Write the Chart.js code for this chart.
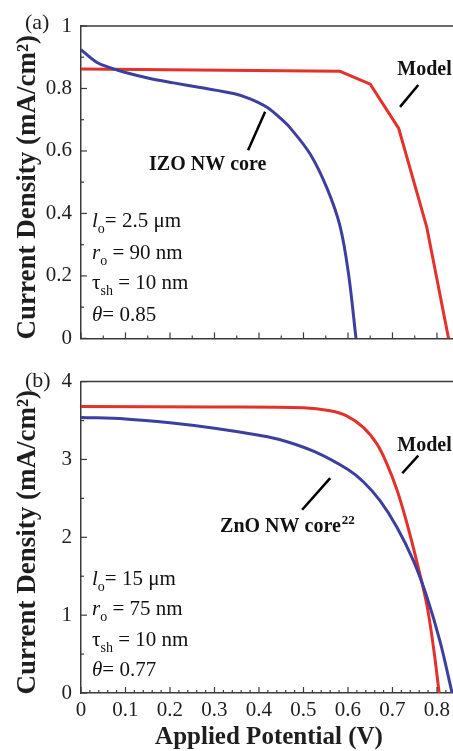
<!DOCTYPE html>
<html>
<head>
<meta charset="utf-8">
<script src="https://cdn.jsdelivr.net/npm/chart.js@4"></script>
<style>
html, body { margin: 0; padding: 0; background: #fff; }
#wrap { position: relative; width: 453px; height: 751px; overflow: hidden; background: #fff; }
canvas { position: absolute; left: 0; }
</style>
</head>
<body>
<div id="wrap">
    <canvas id="chartA" width="457" height="360" style="top:0"></canvas>
    <canvas id="chartB" width="457" height="391" style="top:360px"></canvas>
</div>
<script>
// panel (a): IZO NW core vs model
const izoV = [0, 0.035, 0.065, 0.1, 0.155, 0.208, 0.268, 0.343, 0.38, 0.418, 0.447, 0.47, 0.515, 0.553, 0.582, 0.601, 0.618];
const izoJ = [0.924, 0.884, 0.867, 0.851, 0.832, 0.818, 0.803, 0.784, 0.767, 0.740, 0.706, 0.674, 0.59, 0.48, 0.36, 0.209, 0];
const modelAV = [0, 0.582, 0.65, 0.714, 0.777, 0.826];
const modelAJ = [0.862, 0.855, 0.814, 0.672, 0.356, 0];

// panel (b): ZnO NW core vs model
const znoV = [0, 0.1, 0.2, 0.3, 0.4, 0.45, 0.525, 0.6, 0.635, 0.672, 0.71, 0.747, 0.777, 0.807, 0.834];
const znoJ = [3.54, 3.52, 3.47, 3.40, 3.31, 3.25, 3.10, 2.87, 2.71, 2.47, 2.13, 1.70, 1.24, 0.66, 0];
const modelBV = [0, 0.3, 0.5, 0.56, 0.597, 0.635, 0.665, 0.687, 0.71, 0.732, 0.755, 0.777, 0.792, 0.805];
const modelBJ = [3.68, 3.675, 3.665, 3.625, 3.56, 3.41, 3.20, 2.95, 2.61, 2.19, 1.68, 1.14, 0.59, 0];

// tick labels
const xTicks = [0, 0.1, 0.2, 0.3, 0.4, 0.5, 0.6, 0.7, 0.8];
const yTicksA = [0, 0.2, 0.4, 0.6, 0.8, 1];
const yTicksB = [0, 1, 2, 3, 4];

const RED = '#e2322b';
const BLUE = '#3d3f9f';
const INK = '#1e1e1e';
const SERIF = "'Liberation Serif', 'Times New Roman', serif";

Chart.defaults.font.family = SERIF;
Chart.defaults.color = INK;

function pts(xs, ys) {
    return xs.map((x, i) => ({ x: x, y: ys[i] }));
}

// draws top frame line, inward tick marks, y title, labels and the parameter block
const framePlugin = {
    id: 'frame',
    afterDatasetsDraw(chart, args, o) {
        const { ctx, chartArea: a, scales: { x, y } } = chart;
        ctx.save();
        ctx.strokeStyle = '#3a3a3a';
        ctx.lineWidth = 1.5;
        ctx.beginPath();
        ctx.moveTo(a.left, a.top);
        ctx.lineTo(a.right + 2, a.top);
        ctx.stroke();

        ctx.lineWidth = 1.2;
        for (let i = 0; i * o.xMinor <= x.max + 1e-9; i++) {
            const px = x.getPixelForValue(i * o.xMinor);
            const len = i % o.xPer === 0 ? 6 : 3;
            ctx.beginPath();
            ctx.moveTo(px, a.bottom);
            ctx.lineTo(px, a.bottom - len);
            ctx.stroke();
        }
        for (let i = 0; i * o.yMinor <= y.max + 1e-9; i++) {
            const py = y.getPixelForValue(i * o.yMinor);
            const len = i % o.yPer === 0 ? 6 : 3;
            ctx.beginPath();
            ctx.moveTo(a.left, py);
            ctx.lineTo(a.left + len, py);
            ctx.stroke();
        }

        // y axis title, a little below the plot centre as in the figure
        ctx.save();
        ctx.translate(35, (a.top + a.bottom) / 2 + 5);
        ctx.rotate(-Math.PI / 2);
        ctx.fillStyle = INK;
        ctx.font = 'bold 27px ' + SERIF;
        ctx.textAlign = 'center';
        ctx.textBaseline = 'alphabetic';
        ctx.fillText('Current Density (mA/cm\u00b2)', 0, 0);
        ctx.restore();

        // pointer lines
        ctx.strokeStyle = '#000';
        ctx.lineWidth = 2.5;
        o.pointers.forEach(p => {
            ctx.beginPath();
            ctx.moveTo(x.getPixelForValue(p[0]), y.getPixelForValue(p[1]));
            ctx.lineTo(x.getPixelForValue(p[2]), y.getPixelForValue(p[3]));
            ctx.stroke();
        });

        // bold labels
        ctx.fillStyle = '#111';
        ctx.textBaseline = 'alphabetic';
        o.notes.forEach(n => {
            const px = x.getPixelForValue(n.v);
            const py = y.getPixelForValue(n.j);
            ctx.font = 'bold 20px ' + SERIF;
            ctx.fillText(n.text, px, py);
            if (n.sup) {
                const w = ctx.measureText(n.text).width;
                ctx.font = 'bold 13px ' + SERIF;
                ctx.fillText(n.sup, px + w + 1, py - 8);
            }
        });

        // parameter block
        o.params.forEach(row => {
            let px = x.getPixelForValue(o.paramV);
            const py = y.getPixelForValue(row.j);
            row.parts.forEach(part => {
                let size = 21, dy = 0;
                if (part.sub) { size = 14; dy = 6; }
                ctx.font = (part.it ? 'italic ' : '') + size + 'px ' + SERIF;
                ctx.fillText(part.t, px, py + dy);
                px += ctx.measureText(part.t).width;
            });
        });
        ctx.restore();
    }
};

function makeChart(id, cfg) {
    return new Chart(document.getElementById(id), {
        type: 'scatter',
        data: {
            datasets: [
                {
                    label: cfg.expLabel,
                    data: cfg.exp,
                    showLine: true,
                    borderColor: BLUE,
                    borderWidth: 3,
                    pointRadius: 0,
                    tension: 0.35
                },
                {
                    label: 'Model',
                    data: cfg.model,
                    showLine: true,
                    borderColor: RED,
                    borderWidth: 3,
                    pointRadius: 0,
                    tension: cfg.modelSmooth ? 0.35 : 0
                }
            ]
        },
        options: {
            responsive: false,
            animation: false,
            devicePixelRatio: 1,
            layout: { padding: { top: cfg.top, left: 0, right: 0, bottom: 0 } },
            plugins: {
                legend: { display: false },
                tooltip: { enabled: false },
                frame: cfg.frame
            },
            scales: {
                x: {
                    type: 'linear',
                    min: 0,
                    max: 0.845,
                    afterBuildTicks: s => { s.ticks = xTicks.map(v => ({ value: v })); },
                    afterFit: s => { s.height = cfg.xHeight; },
                    grid: { display: false, drawTicks: false },
                    border: { display: true, color: '#3a3a3a', width: 1.5 },
                    ticks: {
                        display: cfg.showX,
                        padding: 5,
                        font: { size: 21 },
                        maxRotation: 0,
                        autoSkip: false,
                        callback: v => String(v)
                    },
                    title: {
                        display: cfg.showX,
                        text: 'Applied Potential (V)',
                        font: { size: 25, weight: 'bold', lineHeight: 1.1 },
                        padding: { top: 0, bottom: 0 }
                    }
                },
                y: {
                    type: 'linear',
                    min: 0,
                    max: cfg.yMax,
                    afterBuildTicks: s => { s.ticks = cfg.yTicks.map(v => ({ value: v })); },
                    afterFit: s => { s.width = 81; },
                    grid: { display: false, drawTicks: false },
                    border: { display: true, color: '#3a3a3a', width: 1.5 },
                    ticks: { padding: 9, font: { size: 21 }, callback: v => String(v) }
                }
            }
        },
        plugins: [framePlugin, {
            id: 'panelTag',
            afterDraw(chart) {
                const c = chart.ctx;
                c.save();
                c.fillStyle = INK;
                c.font = '22px ' + SERIF;
                c.textBaseline = 'alphabetic';
                c.fillText(cfg.tag, cfg.tagX, cfg.tagY);
                c.restore();
            }
        }]
    });
}

makeChart('chartA', {
    expLabel: 'IZO NW core',
    exp: pts(izoV, izoJ),
    model: pts(modelAV, modelAJ),
    modelSmooth: false,
    yMax: 1,
    yTicks: yTicksA,
    top: 26,
    xHeight: 17,
    showX: false,
    tag: '(a)',
    tagX: 25,
    tagY: 29,
    frame: {
        xMinor: 0.05, xPer: 2, yMinor: 0.1, yPer: 2,
        pointers: [[0.717, 0.741, 0.758, 0.811], [0.3755, 0.6025, 0.4138, 0.7256]],
        notes: [
            { text: 'Model', v: 0.711, j: 0.842 },
            { text: 'IZO NW core', v: 0.153, j: 0.539 }
        ],
        paramV: 0.0247,
        params: [
            { j: 0.356, parts: [{ t: 'l', it: true }, { t: 'o', sub: true }, { t: '= 2.5 \u03bcm' }] },
            { j: 0.2555, parts: [{ t: 'r', it: true }, { t: 'o', sub: true }, { t: ' = 90 nm' }] },
            { j: 0.158, parts: [{ t: '\u03c4' }, { t: 'sh', sub: true }, { t: ' = 10 nm' }] },
            { j: 0.0568, parts: [{ t: '\u03b8', it: true }, { t: '= 0.85' }] }
        ]
    }
});

makeChart('chartB', {
    expLabel: 'ZnO NW core',
    exp: pts(znoV, znoJ),
    model: pts(modelBV, modelBJ),
    modelSmooth: true,
    yMax: 4,
    yTicks: yTicksB,
    top: 17,
    xHeight: 58,
    showX: true,
    tag: '(b)',
    tagX: 25,
    tagY: 27,
    frame: {
        xMinor: 0.02, xPer: 5, yMinor: 0.5, yPer: 2,
        pointers: [[0.722, 2.823, 0.758, 3.05], [0.497, 2.354, 0.56, 2.76]],
        notes: [
            { text: 'Model', v: 0.711, j: 3.114 },
            { text: 'ZnO NW core', sup: '22', v: 0.3126, j: 2.063 }
        ],
        paramV: 0.0247,
        params: [
            { j: 1.392, parts: [{ t: 'l', it: true }, { t: 'o', sub: true }, { t: '= 15 \u03bcm' }] },
            { j: 1.0, parts: [{ t: 'r', it: true }, { t: 'o', sub: true }, { t: ' = 75 nm' }] },
            { j: 0.608, parts: [{ t: '\u03c4' }, { t: 'sh', sub: true }, { t: ' = 10 nm' }] },
            { j: 0.215, parts: [{ t: '\u03b8', it: true }, { t: '= 0.77' }] }
        ]
    }
});
</script>
</body>
</html>
